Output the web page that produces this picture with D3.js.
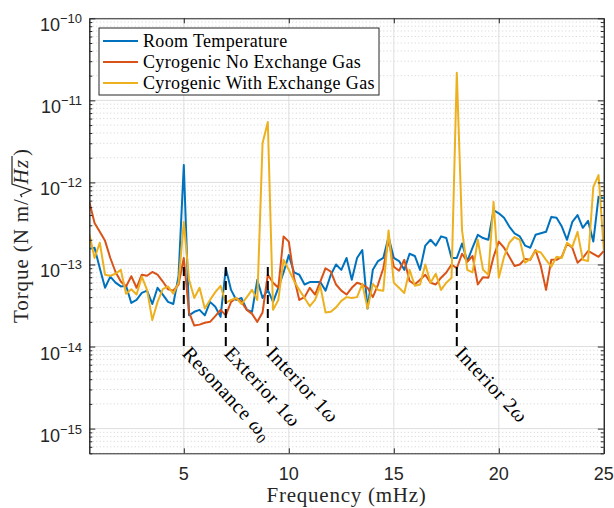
<!DOCTYPE html>
<html>
<head>
<meta charset="utf-8">
<script src="https://d3js.org/d3.v7.min.js"></script>
<style>
  body { margin: 0; background: #fff; }
  svg { display: block; }
</style>
</head>
<body>
<svg id="chart"></svg>
<script>
// frequency grid (mHz): one sample every 0.25 mHz starting at 0.5
const fStart = 0.5
const fStep = 0.25

// torque noise, in units of 1e-14 N m / sqrt(Hz)
const roomTemp = [15.5, 16,
  9, 5.2, 7.1, 6,   5.4, 5.5, 3.4, 3.7,   4.5, 4.8, 3.3, 5.2,   4.3, 3.5, 3.3, 7.2,
  163, 2.4, 2.65, 2.8,   2.4, 3.5, 3.05, 2.3,   9, 4.9, 3.7, 3.9,   2.8, 2.65, 6.5, 3.9,
  4.9, 3.5, 5.2, 8,   13, 8, 7.5, 5.7,   6.1, 6.1, 6.1, 4.8,   7.5, 10, 8.6, 12,
  6.5, 12, 15, 2.9,   8.6, 11, 12, 21.6,   12, 11, 8.6, 13.5,   12.7, 8.6, 17, 20,
  17, 22, 21, 12,   12, 18, 11, 16,   23, 21, 20, 46,   42, 37, 29, 24,
  22, 17, 16, 23,   24, 25, 38, 37,   29, 20, 33, 40,   28, 34, 19, 67,
  64]
const cryoNoGas = [58, 32,
  25, 19.4, 12, 8.1,   6.2, 5.4, 7.2, 5.2,   7.5, 7.3, 8.1, 7.5,   6.2, 5.0, 4.8, 5.7,
  12, 2.6, 1.8, 1.85,   1.95, 2.0, 2.35, 2.8,   2.4, 3.5, 3.9, 3.5,   2.8, 2.5, 2.0, 2.6,
  7.5, 6, 5.2, 22,   19, 6.9, 3.7, 4,   5.2, 4.3, 6.2, 9,   8.2, 5.7, 4.8, 4.3,
  5.2, 6, 5.7, 5.2,   4, 5.7, 9, 20,   9.4, 8.4, 11.4, 6.3,   5.7, 6.5, 7.5, 6,
  5.7, 6.9, 8, 10,   9, 13.5, 10.8, 12.7,   5.7, 7, 6.9, 12.4,   19, 16, 12.4, 9.6,
  10, 11.7, 11.4, 15,   9.6, 4.9, 11.4, 11.4,   12.4, 18, 16, 10.5,   12, 14.6, 13.5, 12.4,
  14.6]
const cryoWithGas = [23.6, 12,
  18.4, 7.5, 7.3, 7.7,   8.6, 4.4, 5, 4.3,   7.1, 4.9, 2.1, 3.5,   5, 5.4, 4.4, 6,
  33, 6.5, 3.9, 5.2,   2.9, 3.7, 4.6, 5.5,   3.4, 3.7, 3.9, 3.3,   4, 4.9, 3.7, 300,
  545, 2.8, 3.7, 11.4,   8.6, 6.3, 4.9, 3.9,   3.1, 3.7, 5.5, 2.6,   2.65, 3, 3.6, 4,
  3.9, 4, 5.8, 2.9,   5.8, 4.9, 4.8, 26,   6, 5.2, 4.5, 8.6,   5.5, 5.7, 10, 6,
  7.7, 4.9, 6, 6.9,   2170, 26, 8.6, 8,   20, 8.6, 7.5, 58,   6.9, 12.4, 18.4, 21.6,
  20, 10.5, 11.7, 14.7,   14, 11.4, 9.4, 12.4,   12, 18.4, 16.4, 25,   11.4, 11, 88, 123,
  15]
const unit = 1e-14

const seriesNames = ['Room Temperature', 'Cyrogenic No Exchange Gas', 'Cyrogenic With Exchange Gas']
const seriesColors = ['#0072BD', '#D95319', '#EDB120']

const xTicks = [5, 10, 15, 20, 25]
const yExponents = [-15, -14, -13, -12, -11, -10]

// dashed markers and their rotated labels
const markFreqs = [5, 7, 9, 18]
const markLabels = [['Resonance ', 'ω', '0'], ['Exterior 1', 'ω', ''], ['Interior 1', 'ω', ''], ['Interior 2', 'ω', '']]

const W = 614, H = 508
const pLeft = 89.3, pRight = 603.8, pTop = 18.3, pBottom = 453.3
const sans = '"Liberation Sans", Arial, Helvetica, sans-serif'
const serif = '"Liberation Serif", "Times New Roman", serif'
const ink = '#262626'

const svg = d3.select('#chart').attr('width', W).attr('height', H)

const x = d3.scaleLinear().domain([0.5, 25]).range([pLeft, pRight])
const y = d3.scaleLog().domain([5e-16, 1e-10]).range([pBottom, pTop])

let majors = yExponents.map(e => Math.pow(10, e))
let minors = []
for (let e = -16; e < -10; e++) {
  for (let m = 2; m <= 9; m++) {
    let v = m * Math.pow(10, e)
    if (v >= 5e-16 && v < 1e-10) minors.push(v)
  }
}

//grid
const grid = svg.append('g')
grid.selectAll('.minor').data(minors).join('line')
  .attr('x1', pLeft).attr('x2', pRight)
  .attr('y1', d => y(d)).attr('y2', d => y(d))
  .attr('stroke', '#c8c8c8').attr('stroke-width', 0.8).attr('stroke-dasharray', '1,2.5')
grid.selectAll('.majory').data(majors).join('line')
  .attr('x1', pLeft).attr('x2', pRight)
  .attr('y1', d => y(d)).attr('y2', d => y(d))
  .attr('stroke', '#dedede').attr('stroke-width', 1)
grid.selectAll('.majorx').data(xTicks).join('line')
  .attr('x1', d => x(d)).attr('x2', d => x(d))
  .attr('y1', pTop).attr('y2', pBottom)
  .attr('stroke', '#dedede').attr('stroke-width', 1)

//series
svg.append('clipPath').attr('id', 'plotclip').append('rect')
  .attr('x', pLeft).attr('y', pTop).attr('width', pRight - pLeft).attr('height', pBottom - pTop)

const line = d3.line()
  .x((d, i) => x(fStart + i * fStep))
  .y(d => y(d * unit))

const lines = svg.append('g').attr('clip-path', 'url(#plotclip)')
;[roomTemp, cryoNoGas, cryoWithGas].forEach((s, k) => {
  lines.append('path')
    .datum(s)
    .attr('d', line)
    .attr('fill', 'none')
    .attr('stroke', seriesColors[k])
    .attr('stroke-width', 2)
    .attr('stroke-linejoin', 'round')
})

//markers
const ann = svg.append('g').attr('font-family', serif).attr('font-size', 20).attr('fill', '#000')
markFreqs.forEach((f, i) => {
  let px = x(f)
  ann.append('line')
    .attr('x1', px).attr('x2', px)
    .attr('y1', y(9.3e-14)).attr('y2', y(1e-14))
    .attr('stroke', '#000').attr('stroke-width', 2).attr('stroke-dasharray', '9,5')
  let t = ann.append('text')
    .attr('transform', `translate(${px + 8},${y(1e-14) - 2}) rotate(47)`)
    .attr('dy', '0.72em')
    .attr('letter-spacing', 0.6)
  t.append('tspan').text(markLabels[i][0])
  t.append('tspan').attr('font-style', 'italic').text(markLabels[i][1])
  if (markLabels[i][2]) t.append('tspan').attr('font-size', 14).attr('dy', 4).text(markLabels[i][2])
})

//axes
function styleAxis(g) {
  g.select('.domain').attr('stroke', ink).attr('stroke-width', 1)
  g.selectAll('.tick line').attr('stroke', ink).attr('stroke-width', 1)
  g.selectAll('.tick text').remove()
}
svg.append('g').attr('transform', `translate(${pLeft},0)`)
  .call(d3.axisLeft(y).tickValues(majors).tickSize(-6).tickSizeOuter(0)).call(styleAxis)
svg.append('g').attr('transform', `translate(${pLeft},0)`)
  .call(d3.axisLeft(y).tickValues(minors).tickSize(-3).tickSizeOuter(0)).call(styleAxis)
svg.append('g').attr('transform', `translate(${pRight},0)`)
  .call(d3.axisRight(y).tickValues(majors).tickSize(-6).tickSizeOuter(0)).call(styleAxis)
svg.append('g').attr('transform', `translate(${pRight},0)`)
  .call(d3.axisRight(y).tickValues(minors).tickSize(-3).tickSizeOuter(0)).call(styleAxis)
svg.append('g').attr('transform', `translate(0,${pBottom})`)
  .call(d3.axisBottom(x).tickValues(xTicks).tickSize(-5).tickSizeOuter(0)).call(styleAxis)
svg.append('g').attr('transform', `translate(0,${pTop})`)
  .call(d3.axisTop(x).tickValues(xTicks).tickSize(-5).tickSizeOuter(0)).call(styleAxis)

// tick labels
svg.append('g').selectAll('text').data(xTicks).join('text')
  .attr('x', d => x(d)).attr('y', 480)
  .attr('text-anchor', 'middle')
  .attr('font-family', sans).attr('font-size', 18).attr('fill', ink)
  .text(d => d)

const yl = svg.append('g').selectAll('text').data(yExponents).join('text')
  .attr('x', 82).attr('y', d => y(Math.pow(10, d)) + 13)
  .attr('text-anchor', 'end')
  .attr('font-family', sans).attr('fill', ink)
yl.append('tspan').attr('font-size', 18).text('10')
yl.append('tspan').attr('font-size', 13).attr('dy', -8).text(d => '\u2212' + Math.abs(d))

// axis titles
svg.append('text')
  .attr('x', (pLeft + pRight) / 2).attr('y', 502)
  .attr('text-anchor', 'middle')
  .attr('font-family', serif).attr('font-size', 21).attr('letter-spacing', 0.75).attr('fill', ink)
  .text('Frequency (mHz)')

const yt = svg.append('g').attr('font-family', serif).attr('font-size', 21).attr('fill', ink)
const t1 = yt.append('text').attr('letter-spacing', 0.9).text('Torque (N m/')
const w1 = t1.node().getComputedTextLength()
const rad = 14
const t2 = yt.append('text').attr('x', w1 + rad).attr('font-style', 'italic').attr('letter-spacing', 0.9).text('Hz')
const w2 = t2.node().getComputedTextLength()
const t3 = yt.append('text').attr('x', w1 + rad + w2 + 3).text(')')
const w3 = t3.node().getComputedTextLength()
yt.append('path')
  .attr('d', `M${w1 + 1},-6 l2.5,-1.5 l4.5,10.5 l6,-19 h${w2 + 3}`)
  .attr('fill', 'none').attr('stroke', ink).attr('stroke-width', 1.2)
const total = w1 + rad + w2 + 3 + w3
yt.attr('transform', `translate(28,236) rotate(-90) translate(${-total / 2},0)`)

//legend
const lg = svg.append('g')
lg.append('rect')
  .attr('x', 99).attr('y', 28).attr('width', 280).attr('height', 67)
  .attr('fill', '#fff').attr('stroke', ink).attr('stroke-width', 1)
seriesNames.forEach((name, k) => {
  let ly = 41 + k * 21
  lg.append('line')
    .attr('x1', 103).attr('x2', 138).attr('y1', ly).attr('y2', ly)
    .attr('stroke', seriesColors[k]).attr('stroke-width', 2)
  lg.append('text')
    .attr('x', 143).attr('y', ly + 6)
    .attr('font-family', serif).attr('font-size', 18).attr('letter-spacing', 0.35).attr('fill', '#000')
    .text(name)
})
</script>
</body>
</html>
